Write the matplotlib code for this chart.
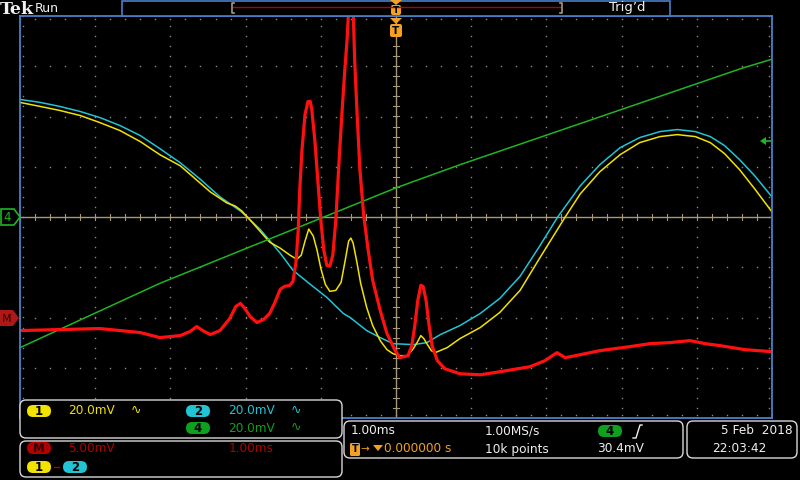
import numpy as np
import matplotlib
matplotlib.use("Agg")
import matplotlib.pyplot as plt
from matplotlib.patches import FancyBboxPatch, Rectangle, Polygon

# ── Trace data (time in divisions of 1.00 ms, level in vertical divisions) ──
ch2_t = [-5.00, -4.73, -4.47, -4.20, -3.94, -3.67, -3.40, -3.14, -2.87, -2.61, -2.34,
         -2.07, -1.98, -1.81, -1.54, -1.37, -1.14, -0.92, -0.70, -0.61, -0.39, -0.21,
         -0.04, 0.23, 0.41, 0.59, 0.85, 1.12, 1.38, 1.65, 1.91, 2.15, 2.45, 2.71,
         2.98, 3.24, 3.51, 3.74, 3.98, 4.18, 4.37, 4.57, 4.77, 5.00]
ch2_v = [2.34, 2.28, 2.20, 2.10, 1.98, 1.82, 1.62, 1.36, 1.08, 0.76, 0.40,
         0.12, 0.00, -0.24, -0.72, -1.06, -1.34, -1.60, -1.92, -2.00, -2.26, -2.40,
         -2.52, -2.54, -2.50, -2.34, -2.16, -1.92, -1.62, -1.18, -0.58, 0.00, 0.62, 1.04,
         1.38, 1.58, 1.70, 1.74, 1.70, 1.60, 1.42, 1.14, 0.82, 0.40]

ch1_t = [-5.00, -4.73, -4.47, -4.20, -3.94, -3.67, -3.40, -3.14, -2.87, -2.70, -2.47,
         -2.25, -2.14, -2.05, -1.94, -1.81, -1.68, -1.54, -1.41, -1.32, -1.26, -1.21,
         -1.16, -1.10, -1.05, -1.00, -0.94, -0.88, -0.80, -0.73, -0.68, -0.63, -0.60,
         -0.57, -0.52, -0.47, -0.39, -0.31, -0.21, -0.12, -0.04, 0.05, 0.15, 0.23,
         0.28, 0.33, 0.37, 0.41, 0.47, 0.52, 0.68, 0.85, 1.12, 1.38, 1.65, 1.91,
         2.25, 2.45, 2.71, 2.98, 3.24, 3.51, 3.74, 3.98, 4.18, 4.37, 4.57, 4.77, 5.00]
ch1_v = [2.28, 2.20, 2.12, 2.02, 1.88, 1.72, 1.50, 1.24, 1.02, 0.80, 0.50,
         0.28, 0.22, 0.12, -0.06, -0.28, -0.50, -0.62, -0.76, -0.84, -0.76, -0.48,
         -0.24, -0.38, -0.66, -1.02, -1.34, -1.48, -1.46, -1.30, -0.90, -0.48, -0.42,
         -0.52, -0.90, -1.32, -1.80, -2.16, -2.46, -2.64, -2.72, -2.76, -2.76, -2.62,
         -2.50, -2.36, -2.42, -2.52, -2.66, -2.70, -2.60, -2.42, -2.20, -1.90, -1.46, -0.82,
         0.00, 0.46, 0.90, 1.24, 1.48, 1.60, 1.64, 1.60, 1.48, 1.26, 0.94, 0.56, 0.10]

ch4_t = [-5.0, -3.14, 0.0, 0.85, 4.60, 5.0]
ch4_v = [-2.60, -1.32, 0.58, 1.04, 2.96, 3.14]

math_t = [-5.00, -4.47, -3.94, -3.40, -3.14, -2.87, -2.74, -2.65, -2.57, -2.47, -2.34,
          -2.21, -2.13, -2.07, -2.01, -1.94, -1.85, -1.76, -1.68, -1.61, -1.54, -1.48,
          -1.41, -1.37, -1.33, -1.30, -1.28, -1.25, -1.21, -1.17, -1.14, -1.12, -1.08,
          -1.04, -1.00, -0.96, -0.92, -0.88, -0.84, -0.80, -0.76, -0.72, -0.68, -0.65,
          -0.63, -0.60, -0.57, -0.55, -0.52, -0.48, -0.43, -0.37, -0.31, -0.21, -0.12,
          -0.01, 0.05, 0.16, 0.21, 0.25, 0.29, 0.33, 0.36, 0.40, 0.44, 0.48, 0.55,
          0.65, 0.85, 1.12, 1.38, 1.78, 1.98, 2.14, 2.25, 2.45, 2.71, 3.11, 3.38,
          3.64, 3.91, 4.11, 4.31, 4.64, 5.00]
math_v = [-2.26, -2.24, -2.22, -2.30, -2.40, -2.36, -2.28, -2.18, -2.26, -2.34, -2.26,
          -2.02, -1.78, -1.72, -1.82, -1.98, -2.10, -2.04, -1.92, -1.70, -1.44, -1.38,
          -1.36, -1.28, -0.90, -0.26, 0.54, 1.34, 2.04, 2.30, 2.30, 2.14, 1.54,
          0.74, -0.06, -0.66, -0.96, -0.98, -0.76, -0.06, 1.04, 2.04, 2.94, 3.54,
          4.14, 4.74, 4.14, 3.14, 2.14, 0.94, 0.04, -0.66, -1.26, -1.86, -2.32,
          -2.66, -2.80, -2.76, -2.56, -2.16, -1.66, -1.36, -1.38, -1.66, -2.16, -2.56, -2.86,
          -3.02, -3.12, -3.14, -3.08, -2.98, -2.86, -2.70, -2.80, -2.74, -2.66, -2.58, -2.52,
          -2.50, -2.46, -2.52, -2.56, -2.64, -2.68]

YEL, CYN, GRN, RED = "#f2e200", "#22c4d4", "#20b424", "#ff1010"
FRAME = "#4a80c8"
GRID = "#8a8a78"
TAN = "#a8987a"

fig = plt.figure(figsize=(8, 4.8), dpi=100, facecolor="black")

# ── Graticule ────────────────────────────────────────────────────────────────
ax = fig.add_axes([20 / 800, 62 / 480, 752 / 800, 402 / 480])
ax.set_facecolor("black")
ax.set_xlim(-5, 5)
ax.set_ylim(-4, 4)
ax.set_xticks([])
ax.set_yticks([])
for s in ax.spines.values():
    s.set_color(FRAME)
    s.set_linewidth(1.3)

minor_y = np.arange(-4, 4.001, 0.2)
minor_x = np.arange(-5, 5.001, 0.2)
dot = dict(ls="none", marker="s", ms=1.0, mec="none", mfc=GRID)
for gx in range(-4, 5):
    if gx != 0:
        ax.plot(np.full_like(minor_y, gx), minor_y, **dot)
for gy in range(-3, 4):
    if gy != 0:
        ax.plot(minor_x, np.full_like(minor_x, gy), **dot)
# edge ticks
ax.plot(np.full_like(minor_y, -4.96), minor_y, **dot)
ax.plot(np.full_like(minor_y, 4.96), minor_y, **dot)
ax.plot(minor_x, np.full_like(minor_x, 3.94), **dot)
ax.plot(minor_x, np.full_like(minor_x, -3.94), **dot)

# centre crosshair with ticks
ax.axhline(0, color=TAN, lw=1.0)
ax.axvline(0, color=TAN, lw=1.0)
for mx in minor_x:
    ax.plot([mx, mx], [-0.05, 0.05], color=TAN, lw=0.8)
for my in minor_y:
    ax.plot([-0.045, 0.045], [my, my], color=TAN, lw=0.8)

# ── Traces ───────────────────────────────────────────────────────────────────
ax.plot(ch2_t, ch2_v, color=CYN, lw=1.1)
ax.plot(ch1_t, ch1_v, color=YEL, lw=1.1)
ax.plot(ch4_t, ch4_v, color=GRN, lw=1.1)
ax.plot(math_t, math_v, color=RED, lw=2.3, solid_joinstyle="round")

# ── Overlay for scope chrome ─────────────────────────────────────────────────
ov = fig.add_axes([0, 0, 1, 1], zorder=5)
ov.set_xlim(0, 800)
ov.set_ylim(480, 0)
ov.axis("off")

WH = "#f0f0f0"
ov.text(0, 9, "Tek", color=WH, fontsize=12.5, fontweight="bold", family="DejaVu Serif",
        va="center", ha="left")
ov.text(35, 8, "Run", color=WH, fontsize=9, va="center", ha="left")
ov.text(609, 8, "Trig\u2019d", color=WH, fontsize=9.5, va="center", ha="left")

# record overview bar
ov.add_patch(Rectangle((122, 0.5), 548, 15, fc="black", ec=FRAME, lw=1.2))
ov.plot([233, 561], [7, 7], color="#b00000", lw=1.0)
for bx, d in ((232, 1), (562, -1)):
    ov.plot([bx + 2 * d, bx, bx, bx + 2 * d], [3, 3, 13, 13], color="#a09a88", lw=1.2)

# trigger position markers
ORG = "#f5a020"
ov.add_patch(FancyBboxPatch((391, 5), 10, 10, boxstyle="round,pad=0,rounding_size=2",
                            fc=ORG, ec="none"))
ov.add_patch(Polygon([[390, 0], [402, 0], [396, 5]], fc=ORG, ec="none"))
ov.text(396, 10.5, "T", color="black", fontsize=6.5, fontweight="bold", ha="center", va="center")
ov.add_patch(Polygon([[390, 18], [402, 18], [396, 24]], fc=ORG, ec="none"))
ov.add_patch(FancyBboxPatch((390, 24), 12, 13, boxstyle="round,pad=0,rounding_size=2",
                            fc=ORG, ec="none"))
ov.text(396, 30.5, "T", color="black", fontsize=7.5, fontweight="bold", ha="center", va="center")

# channel 4 and math ground markers on the left
ov.add_patch(Polygon([[1, 209], [14, 209], [20, 217], [14, 225], [1, 225]],
                     fc="black", ec=GRN, lw=1.2))
ov.text(7.5, 217.5, "4", color=GRN, fontsize=8.5, ha="center", va="center")
ov.add_patch(Polygon([[0, 310], [13, 310], [19, 318], [13, 326], [0, 326]],
                     fc="#b01818", ec="none"))
ov.text(7, 318.5, "M", color="#300000", fontsize=8, ha="center", va="center")

# trigger level arrow on the right
ov.add_patch(Polygon([[760, 141], [766, 137], [766, 145]], fc=GRN, ec="none"))
ov.plot([766, 771], [141, 141], color=GRN, lw=1.2)

# ── Bottom readout panels ────────────────────────────────────────────────────
def panel(x0, y0, x1, y1):
    ov.add_patch(FancyBboxPatch((x0, y0), x1 - x0, y1 - y0,
                                boxstyle="round,pad=0,rounding_size=6",
                                fc="black", ec="#d8d8d8", lw=1.0))


def pill(xc, yc, label, fc, tc="black", w=24, h=12):
    ov.add_patch(FancyBboxPatch((xc - w / 2, yc - h / 2), w, h,
                                boxstyle="round,pad=0,rounding_size=6", fc=fc, ec="none"))
    ov.text(xc, yc + 0.5, label, color=tc, fontsize=8.5, fontweight="bold",
            ha="center", va="center")


FS = 8.7
panel(20, 400, 342, 438)
panel(20, 441, 342, 477)
panel(344, 421, 683, 458)
panel(687, 421, 797, 458)

pill(39, 411, "1", YEL)
ov.text(68, 411, "20.0mV", color=YEL, fontsize=FS, va="center")
ov.text(131, 410, "\u223f", color=YEL, fontsize=9, va="center")
pill(198, 411, "2", CYN)
ov.text(228, 411, "20.0mV", color=CYN, fontsize=FS, va="center")
ov.text(291, 410, "\u223f", color=CYN, fontsize=9, va="center")
pill(198, 428, "4", "#10a020")
ov.text(228, 428, "20.0mV", color="#10a020", fontsize=FS, va="center")
ov.text(291, 427, "\u223f", color="#10a020", fontsize=9, va="center")

DRED = "#b00000"
pill(39, 448, "M", DRED, tc="#300000")
ov.text(68, 448, "5.00mV", color=DRED, fontsize=FS, va="center")
ov.text(229, 448, "1.00ms", color=DRED, fontsize=FS, va="center")
pill(39, 467, "1", YEL)
ov.plot([54, 59], [467, 467], color=DRED, lw=1.0)
pill(75, 467, "2", CYN)

ov.text(351, 431, "1.00ms", color=WH, fontsize=FS, va="center")
ov.text(485, 431, "1.00MS/s", color=WH, fontsize=FS, va="center")
pill(610, 431, "4", "#10a020")
ov.plot([633, 636, 640, 642], [438, 438, 425, 425], color=WH, lw=1.0)
ov.add_patch(FancyBboxPatch((350, 443), 10, 13, boxstyle="round,pad=0,rounding_size=1.5",
                            fc=ORG, ec="none"))
ov.text(355, 449.5, "T", color="black", fontsize=7, fontweight="bold", ha="center", va="center")
ov.text(360, 449, "\u2192", color=ORG, fontsize=7.5, va="center")
ov.add_patch(Polygon([[373, 445], [383, 445], [378, 451]], fc=ORG, ec="none"))
ov.text(384, 449, "0.000000 s", color=ORG, fontsize=FS, va="center")
ov.text(485, 449, "10k points", color=WH, fontsize=FS, va="center")
ov.text(597, 449, "30.4mV", color=WH, fontsize=FS, va="center")

ov.text(793, 431, "5 Feb  2018", color=WH, fontsize=FS, va="center", ha="right")
ov.text(712, 449, "22:03:42", color=WH, fontsize=FS, va="center")

fig.savefig("out.png", dpi=100, facecolor="black")
